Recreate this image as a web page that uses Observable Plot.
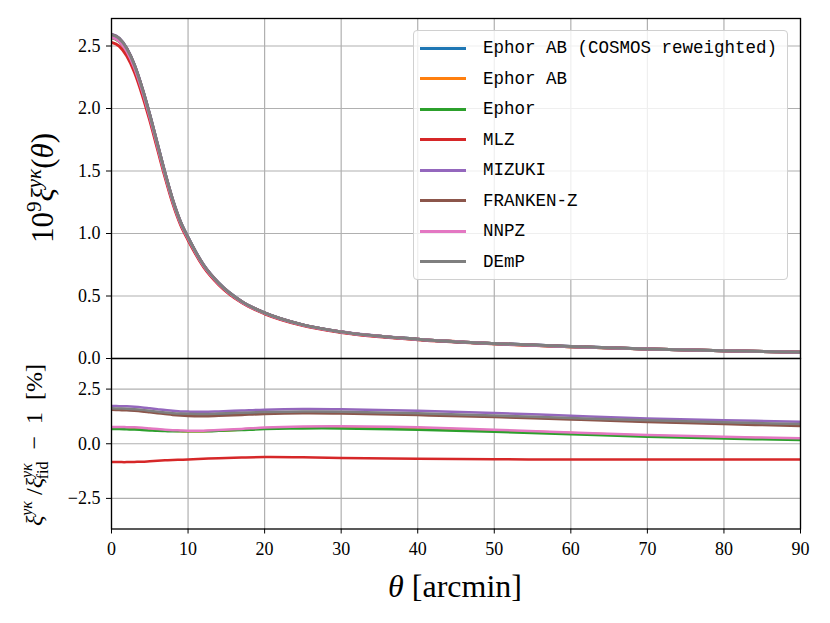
<!DOCTYPE html>
<html>
<head>
<meta charset="utf-8">
<script src="https://cdn.jsdelivr.net/npm/d3@7"></script>
<script src="https://cdn.jsdelivr.net/npm/@observablehq/plot@0.6"></script>
<style>
  body { margin: 0; background: #fff; }
  #wrap { position: relative; width: 830px; height: 623px; background: #fff; overflow: hidden; }
  #wrap > svg { position: absolute; left: 0; top: 0; background: transparent; }
  #legend { position: absolute; left: 413px; top: 30px; width: 375px; height: 250px;
    border: 1px solid #d0d0d0; border-radius: 4px; background: rgba(255,255,255,0.8);
    box-sizing: border-box; }
  .row { position: absolute; left: 0; height: 20px; }
  .row .sw { position: absolute; left: 6px; top: 8.5px; width: 46px; height: 3px; }
  .row .lb { position: absolute; left: 69px; top: 0px; font-family: "Liberation Mono", monospace;
    font-size: 17.5px; color: #000; white-space: pre; line-height: 20px; }
</style>
</head>
<body>
<div id="wrap"></div>
<script>
// ---- data ----
const seriesNames = ["Ephor AB (COSMOS reweighted)", "Ephor AB", "Ephor", "MLZ", "MIZUKI", "FRANKEN-Z", "NNPZ", "DEmP"];
const seriesColors = ["#1f77b4", "#ff7f0e", "#2ca02c", "#d62728", "#9467bd", "#8c564b", "#e377c2", "#7f7f7f"];

const theta = [0, 1, 2, 3, 4, 5, 6, 7, 8, 9, 10, 12, 14, 17, 20, 25, 30, 40, 50, 60, 70, 80, 90];

// fiducial 10^9 xi(theta)
const fiducial = [2.55, 2.52, 2.44, 2.31, 2.13, 1.92, 1.69, 1.46, 1.25, 1.08, 0.955, 0.74, 0.595, 0.45, 0.36, 0.265, 0.21, 0.152, 0.118, 0.094, 0.076, 0.062, 0.050];

// relative deviation from fiducial [%]
const ratioEphorABCosmos = [1.58, 1.57, 1.56, 1.54, 1.51, 1.47, 1.43, 1.39, 1.36, 1.34, 1.33, 1.32, 1.34, 1.38, 1.41, 1.43, 1.42, 1.35, 1.25, 1.14, 1.03, 0.94, 0.86];
const ratioEphorAB = [0.74, 0.74, 0.73, 0.72, 0.70, 0.67, 0.64, 0.61, 0.59, 0.58, 0.57, 0.57, 0.60, 0.65, 0.71, 0.76, 0.77, 0.72, 0.61, 0.49, 0.37, 0.29, 0.22];
const ratioEphor = [0.67, 0.67, 0.66, 0.65, 0.63, 0.61, 0.59, 0.58, 0.57, 0.57, 0.57, 0.57, 0.59, 0.63, 0.67, 0.70, 0.70, 0.64, 0.55, 0.44, 0.32, 0.24, 0.17];
const ratioMLZ = [-0.84, -0.84, -0.84, -0.83, -0.82, -0.80, -0.78, -0.76, -0.74, -0.73, -0.72, -0.69, -0.66, -0.63, -0.61, -0.62, -0.65, -0.69, -0.71, -0.72, -0.72, -0.72, -0.72];
const ratioMIZUKI = [1.73, 1.72, 1.71, 1.69, 1.66, 1.62, 1.58, 1.54, 1.51, 1.48, 1.47, 1.46, 1.48, 1.52, 1.56, 1.59, 1.58, 1.51, 1.41, 1.28, 1.16, 1.08, 1.01];
const ratioFRANKENZ = [1.55, 1.54, 1.53, 1.51, 1.48, 1.44, 1.40, 1.36, 1.32, 1.29, 1.27, 1.26, 1.28, 1.32, 1.36, 1.39, 1.38, 1.31, 1.22, 1.11, 1.00, 0.90, 0.81];
const ratioNNPZ = [0.77, 0.77, 0.76, 0.75, 0.73, 0.70, 0.67, 0.64, 0.62, 0.61, 0.60, 0.60, 0.63, 0.68, 0.74, 0.79, 0.80, 0.75, 0.64, 0.52, 0.40, 0.32, 0.25];
const ratioDEmP = [1.62, 1.61, 1.60, 1.58, 1.55, 1.51, 1.47, 1.43, 1.40, 1.38, 1.37, 1.36, 1.38, 1.42, 1.45, 1.47, 1.46, 1.39, 1.29, 1.18, 1.07, 0.98, 0.90];

const xTicks = [0, 10, 20, 30, 40, 50, 60, 70, 80, 90];
const yTopTicks = [0, 0.5, 1.0, 1.5, 2.0, 2.5];
const yBotTicks = [-2.5, 0, 2.5];

// ---- build table ----
const ratios = [ratioEphorABCosmos, ratioEphorAB, ratioEphor, ratioMLZ, ratioMIZUKI, ratioFRANKENZ, ratioNNPZ, ratioDEmP];
const rows = [];
seriesNames.forEach((name, s) => {
  theta.forEach((t, i) => {
    rows.push({series: name, theta: t, ratio: ratios[s][i], xi: fiducial[i] * (1 + ratios[s][i] / 100)});
  });
});

const fmt = d => d.toFixed(1).replace("-", "\u2212");
const colorOpt = {domain: seriesNames, range: seriesColors};
const gridStyle = {stroke: "#b0b0b0", strokeOpacity: 1, strokeWidth: 1.2};
const fontStyle = {fontFamily: "'Liberation Serif', serif", fontSize: "18px", background: "transparent", color: "#000"};

const topPlot = Plot.plot({
  width: 830, height: 623,
  marginLeft: 111, marginRight: 30, marginTop: 18, marginBottom: 265,
  style: fontStyle,
  x: {domain: [0, 90], axis: null},
  y: {domain: [0, 2.72], axis: null},
  color: colorOpt,
  marks: [
    Plot.gridX(xTicks, gridStyle),
    Plot.gridY(yTopTicks, gridStyle),
    Plot.lineY(rows, {x: "theta", y: "xi", stroke: "series", z: "series", strokeWidth: 3, curve: "monotone-x", clip: true}),
    Plot.axisY(yTopTicks, {tickFormat: fmt, tickSize: 5, tickPadding: 6, fontSize: 18, label: null}),
    Plot.frame({stroke: "#000", strokeWidth: 1.3})
  ]
});

const botPlot = Plot.plot({
  width: 830, height: 623,
  marginLeft: 111, marginRight: 30, marginTop: 358, marginBottom: 94.5,
  style: fontStyle,
  x: {domain: [0, 90], axis: null},
  y: {domain: [-3.9, 3.9], axis: null},
  color: colorOpt,
  marks: [
    Plot.gridX(xTicks, gridStyle),
    Plot.gridY(yBotTicks, gridStyle),
    Plot.lineY(rows, {x: "theta", y: "ratio", stroke: "series", z: "series", strokeWidth: 2.5, curve: "catmull-rom", clip: true}),
    Plot.axisY(yBotTicks, {tickFormat: fmt, tickSize: 5, tickPadding: 6, fontSize: 18, label: null}),
    Plot.axisX(xTicks, {tickFormat: d => String(d), tickSize: 5, tickPadding: 8, fontSize: 18, label: null}),
    Plot.frame({stroke: "#000", strokeWidth: 1.3})
  ]
});

const wrap = document.getElementById("wrap");
wrap.appendChild(topPlot);
wrap.appendChild(botPlot);

// ---- axis labels (rich text) ----
const svgB = d3.select(botPlot);
const serif = "'Liberation Serif', serif";

// top y label: 10^9 xi^{y kappa}(theta)
const t1 = svgB.append("text")
  .attr("transform", "translate(53,188) rotate(-90)")
  .attr("text-anchor", "middle").attr("font-family", serif).attr("font-size", 31).attr("fill", "#000");
t1.append("tspan").text("10");
t1.append("tspan").attr("dy", -12).attr("font-size", 21).text("9");
t1.append("tspan").attr("dy", 12).attr("font-style", "italic").text("ξ");
t1.append("tspan").attr("dy", -12).attr("font-size", 21).attr("font-style", "italic").text("yκ");
t1.append("tspan").attr("dy", 12).text("(");
t1.append("tspan").attr("font-style", "italic").text("θ");
t1.append("tspan").text(")");

// bottom y label: xi^{y kappa}/xi^{y kappa}_{fid} - 1 [%]
const t2 = svgB.append("text")
  .attr("transform", "translate(42,445) rotate(-90)")
  .attr("text-anchor", "middle").attr("font-family", serif).attr("font-size", 24).attr("fill", "#000");
t2.append("tspan").attr("font-style", "italic").text("ξ");
t2.append("tspan").attr("dy", -10).attr("font-size", 16).attr("font-style", "italic").text("yκ");
t2.append("tspan").attr("dy", 10).text(" /");
t2.append("tspan").attr("font-style", "italic").text("ξ");
t2.append("tspan").attr("dy", -10).attr("font-size", 16).attr("font-style", "italic").text("yκ");
t2.append("tspan").attr("dx", -16).attr("dy", 16).attr("font-size", 16).text("fid");
t2.append("tspan").attr("dy", -6).text("  \u2212  1  [%]");

// x label
const t3 = svgB.append("text")
  .attr("x", 455).attr("y", 597)
  .attr("text-anchor", "middle").attr("font-family", serif).attr("font-size", 32).attr("fill", "#000");
t3.append("tspan").attr("font-style", "italic").text("θ");
t3.append("tspan").text(" [arcmin]");

// ---- legend ----
const legend = document.createElement("div");
legend.id = "legend";
seriesNames.forEach((name, i) => {
  const r = document.createElement("div");
  r.className = "row";
  r.style.top = (7.3 + 30.5 * i) + "px";
  r.innerHTML = `<div class="sw" style="background:${seriesColors[i]}"></div><div class="lb"></div>`;
  r.querySelector(".lb").textContent = name;
  legend.appendChild(r);
});
wrap.appendChild(legend);
</script>
</body>
</html>
